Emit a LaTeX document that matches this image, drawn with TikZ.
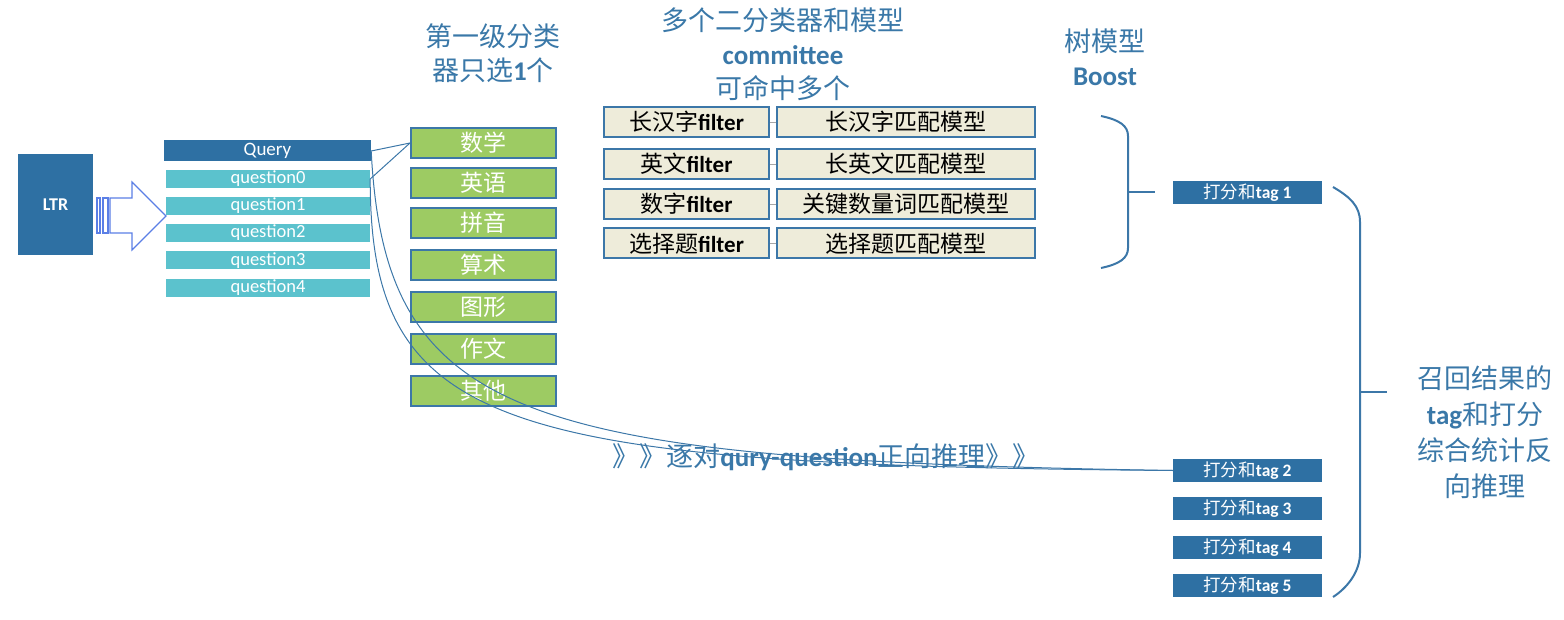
\documentclass[tikz,border=0pt]{standalone}
\usepackage{fontspec}
\setmainfont{Carlito}
\newfontfamily\cjk{Noto Sans CJK SC}
\usepackage{xcolor}
\usepackage{tikz}
\usetikzlibrary{positioning}

\definecolor{ltrblue}{RGB}{46,112,163}
\definecolor{qteal}{RGB}{91,194,205}
\definecolor{catgreen}{RGB}{157,203,99}
\definecolor{edgeblue}{RGB}{60,119,168}
\definecolor{cream}{RGB}{238,236,218}
\definecolor{titleblue}{RGB}{58,120,168}
\definecolor{arrowblue}{RGB}{91,127,230}
\newcommand{\zh}[1]{{\cjk\mdseries #1}}
\newcommand{\fsz}[2]{\fontsize{#1}{#2}\selectfont}

\begin{document}
\begin{tikzpicture}[x=1pt, y=-1pt,
    bar/.style={fill=ltrblue, text=white, inner sep=0pt, font=\fsz{18}{20}},
    qbar/.style={fill=qteal, text=white, minimum width=204pt, minimum height=18pt, inner sep=0pt, font=\fsz{18.5}{20}},
    cat/.style={draw=edgeblue, line width=2pt, fill=catgreen, text=white, minimum width=145pt, minimum height=30pt, inner sep=0pt, font=\cjk\fsz{23}{25}},
    filt/.style={draw=edgeblue, line width=2pt, fill=cream, minimum width=165pt, minimum height=30pt, inner sep=0pt, font=\bfseries\fsz{23}{25}},
    model/.style={filt, minimum width=258pt},
    tagbox/.style={fill=ltrblue, text=white, minimum width=149pt, minimum height=23pt, inner sep=0pt, font=\bfseries\fsz{17.5}{19}},
    ttl/.style={text=titleblue, align=center, font=\bfseries\fsz{27}{34}},
    link/.style={draw=edgeblue, line width=1pt},
    brace/.style={draw=edgeblue, line width=2pt}
]
\useasboundingbox (0,0) rectangle (1564,620);

% LTR and block arrow
\node[bar, minimum width=75pt, minimum height=101pt, font=\bfseries\fsz{18}{20}] (ltr) at (55.5,204.5) {LTR};
\draw[arrowblue, line width=1.2pt, fill=white] (110,198) -- (132,198) -- (132,182) -- (166,216) -- (132,250) -- (132,233) -- (110,233) -- cycle;
\draw[arrowblue, line width=1.2pt] (97,198) rectangle (100,233);
\draw[arrowblue, line width=1.2pt] (103,198) rectangle (108,233);

% Query and questions
\node[bar, minimum width=207pt, minimum height=21pt, font=\fsz{19}{21}] (query) at (267.5,151) {Query};
\node[qbar] (q0) at (268,179) {question0};
\node[qbar] (q1) at (268,206) {question1};
\node[qbar] (q2) at (268,233) {question2};
\node[qbar] (q3) at (268,260.5) {question3};
\node[qbar] (q4) at (268,288) {question4};

% First level classifier
\node[ttl] (clsttl) at (493,53) {\zh{第一级分类}\\\zh{器只选}1\zh{个}};
\node[cat] (c1) at (483.5,143) {数学};
\node[cat] (c2) at (483.5,183) {英语};
\node[cat] (c3) at (483.5,223) {拼音};
\node[cat] (c4) at (483.5,265) {算术};
\node[cat] (c5) at (483.5,307) {图形};
\node[cat] (c6) at (483.5,349) {作文};
\node[cat] (c7) at (483.5,391) {其他};

% Committee of binary classifiers
\node[ttl] (comttl) at (783,54) {\zh{多个二分类器和模型}\\committee\\\zh{可命中多个}};
\node[filt] (f1) at (686.5,122) {\zh{长汉字}filter};
\node[filt] (f2) at (686.5,164) {\zh{英文}filter};
\node[filt] (f3) at (686.5,204) {\zh{数字}filter};
\node[filt] (f4) at (686.5,243.5) {\zh{选择题}filter};
\node[model] (m1) at (906,122) {\zh{长汉字匹配模型}};
\node[model] (m2) at (906,164) {\zh{长英文匹配模型}};
\node[model] (m3) at (906,204) {\zh{关键数量词匹配模型}};
\node[model] (m4) at (906,243.5) {\zh{选择题匹配模型}};
\draw[gray!70] (f1.east) -- (m1.west);
\draw[gray!70] (f2.east) -- (m2.west);
\draw[gray!70] (f3.east) -- (m3.west);
\draw[gray!70] (f4.east) -- (m4.west);

% Tree model
\node[ttl] (boostttl) at (1105,57) {\zh{树模型}\\Boost};
\draw[brace] (1101,116) .. controls (1120,120) and (1128,126) .. (1128,136) -- (1128,248) .. controls (1128,258) and (1120,264) .. (1101,268);
\coordinate (bt) at (1155,192);
\draw[brace] (1128,192) -- (bt);

% Scores and tags
\node[tagbox] (t1) at (1247.5,192.5) {\zh{打分和}tag 1};
\node[tagbox] (t2) at (1247.5,470.5) {\zh{打分和}tag 2};
\node[tagbox] (t3) at (1247.5,508.5) {\zh{打分和}tag 3};
\node[tagbox] (t4) at (1247.5,547.5) {\zh{打分和}tag 4};
\node[tagbox] (t5) at (1247.5,585.5) {\zh{打分和}tag 5};
\draw[brace] (1333,187) .. controls (1350,197) and (1360,206) .. (1360,222) -- (1360,553) .. controls (1360,572) and (1347,588) .. (1333,597);
\coordinate (rt) at (1387,392);
\draw[brace] (1360,392) -- (rt);
\node[ttl, font=\bfseries\fsz{27}{36}] (resttl) at (1485,432) {\zh{召回结果的}\\tag\zh{和打分}\\\zh{综合统计反}\\\zh{向推理}};

% Pairwise inference
\node[ttl] (pairttl) at (826,457) {\zh{》》逐对}qury-question\zh{正向推理》》}};
\draw[link] (query.east) -- (c1.west);
\draw[link] (q0.east) -- (c1.west);
\draw[link] (query.east) .. controls (385,420) and (520,460) .. (t2.west);
\draw[link] (q0.east) .. controls (370,430) and (500,465) .. (t2.west);
\end{tikzpicture}
\end{document}
